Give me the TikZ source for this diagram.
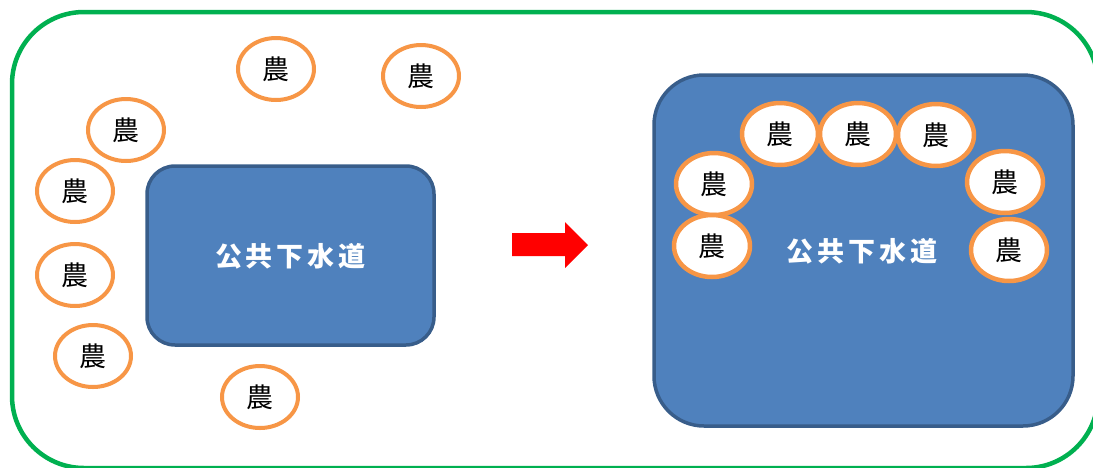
\documentclass[tikz,border=0pt]{standalone}
\usepackage{fontspec}
\newfontfamily\cjk{Noto Sans CJK JP}
\usetikzlibrary{shapes.geometric}
\definecolor{frameg}{HTML}{00B050}
\definecolor{boxfill}{HTML}{4F81BD}
\definecolor{boxline}{HTML}{385D8A}
\definecolor{farm}{HTML}{F79646}
\tikzset{
  farmer/.style={ellipse, draw=farm, line width=4pt, fill=white, minimum width=76pt, minimum height=62pt, inner sep=0pt, font=\cjk\fontsize{27pt}{27pt}\selectfont, text=black},
  sewerbox/.style={draw=boxline, fill=boxfill, line width=3.5pt},
  sewertext/.style={font=\cjk\bfseries\fontsize{27pt}{27pt}\selectfont, text=white, inner sep=0pt}
}
\newcommand{\sewerlabel}{公\kern4pt共\kern4pt下\kern4pt水\kern4pt道}
\begin{document}
\begin{tikzpicture}[x=1pt,y=-1pt]
\useasboundingbox (0,0) rectangle (1093,467);
% outer green frame
\draw[frameg, line width=4.5pt, rounded corners=72pt] (12,12) rectangle (1098,468);
% left sewer box
\draw[sewerbox, rounded corners=28pt] (147,166) rectangle (434,345);
\node[sewertext] (lefttext) at (290.5,256) {\sewerlabel};
% left farmers
\node[farmer] (l1) at (276,69) {農};
\node[farmer] (l2) at (421,76) {農};
\node[farmer] (l3) at (126,130) {農};
\node[farmer] (l4) at (75,191) {農};
\node[farmer] (l5) at (75,275) {農};
\node[farmer] (l6) at (93,356) {農};
\node[farmer] (l7) at (260,397) {農};
% arrow
\fill[red] (512,233) -- (565,233) -- (565,222) -- (588,245) -- (565,268) -- (565,256) -- (512,256) -- cycle;
% right sewer box
\draw[sewerbox, rounded corners=50pt] (654,75) rectangle (1073,426);
\node[sewertext] (righttext) at (862,251) {\sewerlabel};
% right farmers
\node[farmer, line width=4.5pt] (r1) at (780,134) {農};
\node[farmer, line width=4.5pt] (r2) at (858,134) {農};
\node[farmer, line width=4.5pt] (r3) at (936,135) {農};
\node[farmer, line width=4.5pt] (r4) at (714,184) {農};
\node[farmer, line width=4.5pt] (r5) at (712,246) {農};
\node[farmer, line width=4.5pt] (r6) at (1005,182) {農};
\node[farmer, line width=4.5pt] (r7) at (1009,250) {農};
\end{tikzpicture}
\end{document}
